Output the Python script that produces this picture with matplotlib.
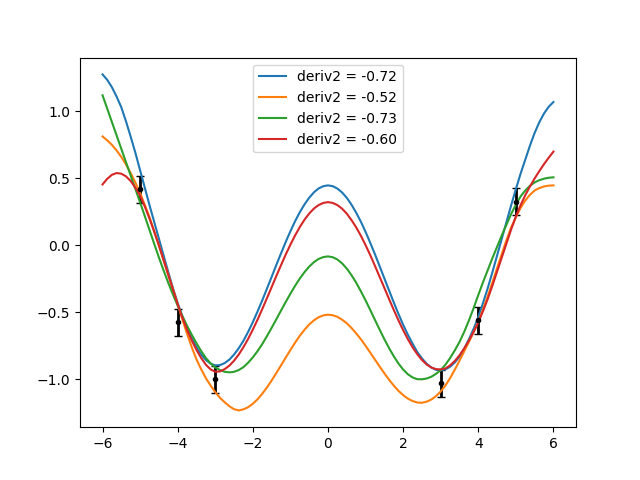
import numpy as np
import matplotlib
matplotlib.use('Agg')
import matplotlib.pyplot as plt

# x grid the curves were read on
xs = np.arange(-6, 6.001, 0.125)

# curves, one value per 0.125 step
blue = [1.276, 1.235, 1.18, 1.11, 1.03, 0.925, 0.81, 0.69, 0.56, 0.43, 0.30, 0.175, 0.05,
        -0.075, -0.20, -0.32, -0.43, -0.53, -0.62, -0.695, -0.76, -0.815, -0.855, -0.882, -0.895,
        -0.893, -0.878, -0.852, -0.814, -0.767, -0.711, -0.645, -0.572, -0.493, -0.410, -0.323, -0.235,
        -0.146, -0.059, 0.026, 0.106, 0.181, 0.248, 0.306, 0.356, 0.396, 0.425, 0.442, 0.448,
        0.442, 0.424, 0.395, 0.355, 0.304, 0.244, 0.177, 0.101, 0.019, -0.066, -0.156, -0.246,
        -0.336, -0.425, -0.511, -0.592, -0.666, -0.733, -0.795, -0.843, -0.883, -0.911, -0.928, -0.933,
        -0.925, -0.905, -0.873, -0.83, -0.772, -0.70, -0.622, -0.535, -0.43, -0.32, -0.20, -0.075,
        0.05, 0.175, 0.30, 0.42, 0.535, 0.64, 0.745, 0.84, 0.92, 0.985, 1.035, 1.07]
orange = [0.813, 0.784, 0.75, 0.708, 0.66, 0.603, 0.54, 0.468, 0.39, 0.302, 0.21, 0.107, 0.0,
          -0.11, -0.22, -0.33, -0.44, -0.552, -0.66, -0.76, -0.85, -0.925, -0.99, -1.045, -1.095,
          -1.137, -1.17, -1.2, -1.222,
          -1.231, -1.223, -1.207, -1.181, -1.148, -1.107, -1.060, -1.008, -0.952, -0.895,
          -0.837, -0.780, -0.725, -0.674, -0.629, -0.590, -0.559, -0.536, -0.522, -0.517,
          -0.521, -0.533, -0.554, -0.581, -0.616, -0.656, -0.700, -0.749, -0.800, -0.852,
          -0.904, -0.954, -1.002, -1.046, -1.085, -1.117, -1.143, -1.161, -1.172, -1.174,
          -1.166, -1.15, -1.124, -1.09, -1.045, -0.99, -0.927, -0.86, -0.79, -0.72,
          -0.647, -0.57, -0.478, -0.38, -0.276, -0.17, -0.064, 0.04, 0.135, 0.21,
          0.28, 0.335, 0.378, 0.41, 0.428, 0.44, 0.446, 0.448]
green = [1.12, 1.02, 0.92, 0.82, 0.72, 0.62, 0.52, 0.42, 0.32, 0.218, 0.115, 0.012, -0.09,
         -0.187, -0.28, -0.367, -0.45, -0.527, -0.60, -0.667, -0.73, -0.788, -0.84, -0.88, -0.91,
         -0.93, -0.943, -0.947, -0.943,
         -0.930, -0.908, -0.875, -0.835, -0.789, -0.736, -0.677, -0.615, -0.551, -0.486,
         -0.422, -0.360, -0.301, -0.247, -0.199, -0.158, -0.125, -0.101, -0.087, -0.082,
         -0.088, -0.105, -0.134, -0.173, -0.222, -0.278, -0.342, -0.410, -0.482, -0.556,
         -0.629, -0.700, -0.766, -0.827, -0.881, -0.926, -0.961, -0.985, -0.998, -0.999,
         -0.993, -0.98, -0.958, -0.93, -0.89, -0.84, -0.783, -0.72, -0.645, -0.56,
         -0.468, -0.37, -0.275, -0.185, -0.095, -0.01, 0.075, 0.155, 0.235, 0.305,
         0.365, 0.41, 0.445, 0.47, 0.487, 0.498, 0.505, 0.508]
red = [0.455, 0.497, 0.527, 0.54, 0.535, 0.515, 0.48, 0.43, 0.37, 0.29, 0.20, 0.102, 0.0,
       -0.11, -0.22, -0.33, -0.44, -0.54, -0.63, -0.71, -0.78, -0.84, -0.89, -0.925, -0.943,
       -0.940, -0.923, -0.897, -0.860, -0.814, -0.759, -0.697, -0.628, -0.554, -0.475, -0.394, -0.311,
       -0.228, -0.147, -0.068, 0.006, 0.075, 0.137, 0.192, 0.238, 0.275, 0.301, 0.317, 0.323,
       0.317, 0.301, 0.274, 0.237, 0.189, 0.135, 0.072, 0.002, -0.073, -0.153, -0.235, -0.317,
       -0.400, -0.481, -0.559, -0.632, -0.699, -0.760, -0.811, -0.855, -0.888, -0.911, -0.923, -0.925,
       -0.918, -0.895, -0.862, -0.82, -0.768, -0.71, -0.645, -0.575, -0.49, -0.40, -0.30, -0.195,
       -0.09, 0.015, 0.12, 0.215, 0.30, 0.375, 0.44, 0.50, 0.555, 0.607, 0.655, 0.70]
curves = [blue, orange, green, red]
labels = ['deriv2 = -0.72', 'deriv2 = -0.52', 'deriv2 = -0.73', 'deriv2 = -0.60']

# observations with error bars
obs_x = [-5, -4, -3, 3, 4, 5]
obs_y = [0.42, -0.575, -1.0, -1.03, -0.56, 0.325]
obs_err = [0.1, 0.1, 0.1, 0.1, 0.1, 0.1]

fig = plt.figure(figsize=(6.4, 4.8), dpi=100)
ax = plt.subplot(111)

ax.errorbar(obs_x, obs_y, yerr=obs_err, fmt='k.', elinewidth=2, capsize=3, capthick=1)

for c, lab in zip(curves, labels):
    ax.plot(xs, c, label=lab)

ax.legend(loc='upper center')
plt.savefig('out.png')
